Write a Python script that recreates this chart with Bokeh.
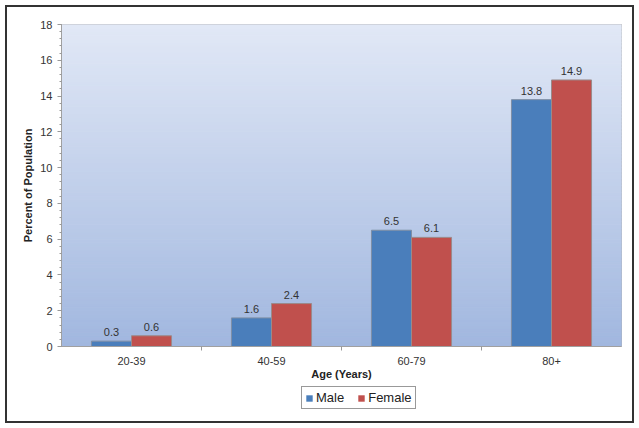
import numpy as np
from bokeh.plotting import figure
from bokeh.layouts import column
from bokeh.models import (Range1d, FixedTicker, ColumnDataSource, Legend, LegendItem)
from bokeh.core.properties import value
from bokeh.embed import file_html
from bokeh.resources import INLINE

ages = ["20-39", "40-59", "60-79", "80+"]
male = [0.3, 1.6, 6.5, 13.8]
female = [0.6, 2.4, 6.1, 14.9]
y_ticks = [0, 2, 4, 6, 8, 10, 12, 14, 16, 18]
series = ["Male", "Female"]

FONT = "Liberation Sans"
MALE_C = "#4a7ebb"
FEMALE_C = "#c0504d"

p = figure(width=625, height=376, output_backend="svg", toolbar_location=None,
           x_range=Range1d(0, 4), y_range=Range1d(0, 18),
           min_border_left=54, min_border_right=11, min_border_top=17, min_border_bottom=37)
p.background_fill_color = "white"
p.border_fill_color = "white"
p.outline_line_color = "#b0b0b0"
p.grid.visible = False

# gradient background of the plot area
n = 90
edges = np.linspace(0, 18, n + 1)
top_c = np.array([0xe1, 0xe8, 0xf6])
bot_c = np.array([0xa1, 0xb7, 0xdf])
cols = []
for i in range(n):
    t = (i + 0.5) / n
    c = bot_c + (top_c - bot_c) * t
    cols.append("#%02x%02x%02x" % tuple(int(round(v)) for v in c))
p.quad(left=0, right=4, bottom=edges[:-1], top=edges[1:], fill_color=cols, line_color=cols, line_width=1)

idx = np.arange(len(ages)) + 0.5
bw = 0.286
src_m = ColumnDataSource(dict(x=idx - bw / 2, top=male, lab=["%.1f" % v for v in male]))
src_f = ColumnDataSource(dict(x=idx + bw / 2, top=female, lab=["%.1f" % v for v in female]))

p.vbar(x="x", top="top", width=bw, source=src_m, fill_color=MALE_C, line_color="#7f8fa6", line_width=1)
p.vbar(x="x", top="top", width=bw, source=src_f, fill_color=FEMALE_C, line_color="#9a8a8a", line_width=1)

for s in (src_m, src_f):
    p.text(x="x", y="top", text="lab", source=s, text_align="center", text_baseline="bottom",
           y_offset=-5, text_font=value(FONT), text_font_size="11px", text_color="#333333")

# x axis
p.xaxis.ticker = FixedTicker(ticks=list(idx), minor_ticks=[1, 2, 3])
p.xaxis.major_label_overrides = {float(x): a for x, a in zip(idx, ages)}
p.xaxis.major_tick_line_color = None
p.xaxis.minor_tick_line_color = "#999999"
p.xaxis.minor_tick_in = 0
p.xaxis.minor_tick_out = 4
p.xaxis.axis_line_color = "#a0a0a0"
p.xaxis.axis_label = "Age (Years)"
p.xaxis.axis_label_standoff = 0

# y axis
p.yaxis.ticker = FixedTicker(ticks=y_ticks, minor_ticks=list(np.arange(0, 18.01, 0.4)))
p.yaxis.major_tick_in = 0
p.yaxis.major_tick_out = 4
p.yaxis.minor_tick_in = 0
p.yaxis.minor_tick_out = 2
p.yaxis.major_tick_line_color = "#999999"
p.yaxis.minor_tick_line_color = "#999999"
p.yaxis.axis_line_color = "#a0a0a0"
p.yaxis.axis_label = "Percent of Population"
p.yaxis.axis_label_standoff = 3

for ax in (p.xaxis, p.yaxis):
    ax.major_label_text_font = FONT
    ax.major_label_text_font_size = "11px"
    ax.major_label_text_color = "#333333"
    ax.axis_label_text_font = FONT
    ax.axis_label_text_font_size = "11px"
    ax.axis_label_text_font_style = "bold"
    ax.axis_label_text_color = "#222222"
p.xaxis.major_label_standoff = 4
p.yaxis.major_label_standoff = 5

# legend strip (its frame is aligned with the main frame by the column layout)
p2 = figure(width=625, height=38, output_backend="svg", toolbar_location=None,
            x_axis_location=None, y_axis_location=None,
            min_border=0, x_range=Range1d(0, 1), y_range=Range1d(0, 1))
p2.outline_line_color = None
p2.grid.visible = False
p2.border_fill_color = "white"
p2.background_fill_color = "white"
lm = p2.rect(x=[-5], y=[-5], width=1, height=1, fill_color=MALE_C, line_color=None)
lf = p2.rect(x=[-5], y=[-5], width=1, height=1, fill_color=FEMALE_C, line_color=None)
legend = Legend(items=[LegendItem(label=series[0], renderers=[lm]),
                       LegendItem(label=series[1], renderers=[lf])],
                orientation="horizontal", location=(240, 12),
                label_text_font=FONT, label_text_font_size="13px", label_text_color="#222222",
                border_line_color="#333333", border_line_width=1,
                glyph_width=8, glyph_height=8, label_standoff=3, spacing=13,
                label_height=14, padding=3, margin=0,
                background_fill_alpha=1, background_fill_color="white")
p2.add_layout(legend, "center")

lay = column(p, p2, spacing=0)
lay.styles = {"border": "2px solid #333333", "margin-left": "5px", "margin-top": "5px",
              "width": "629px", "height": "418px"}

open("out.html", "w").write(file_html(lay, INLINE))
